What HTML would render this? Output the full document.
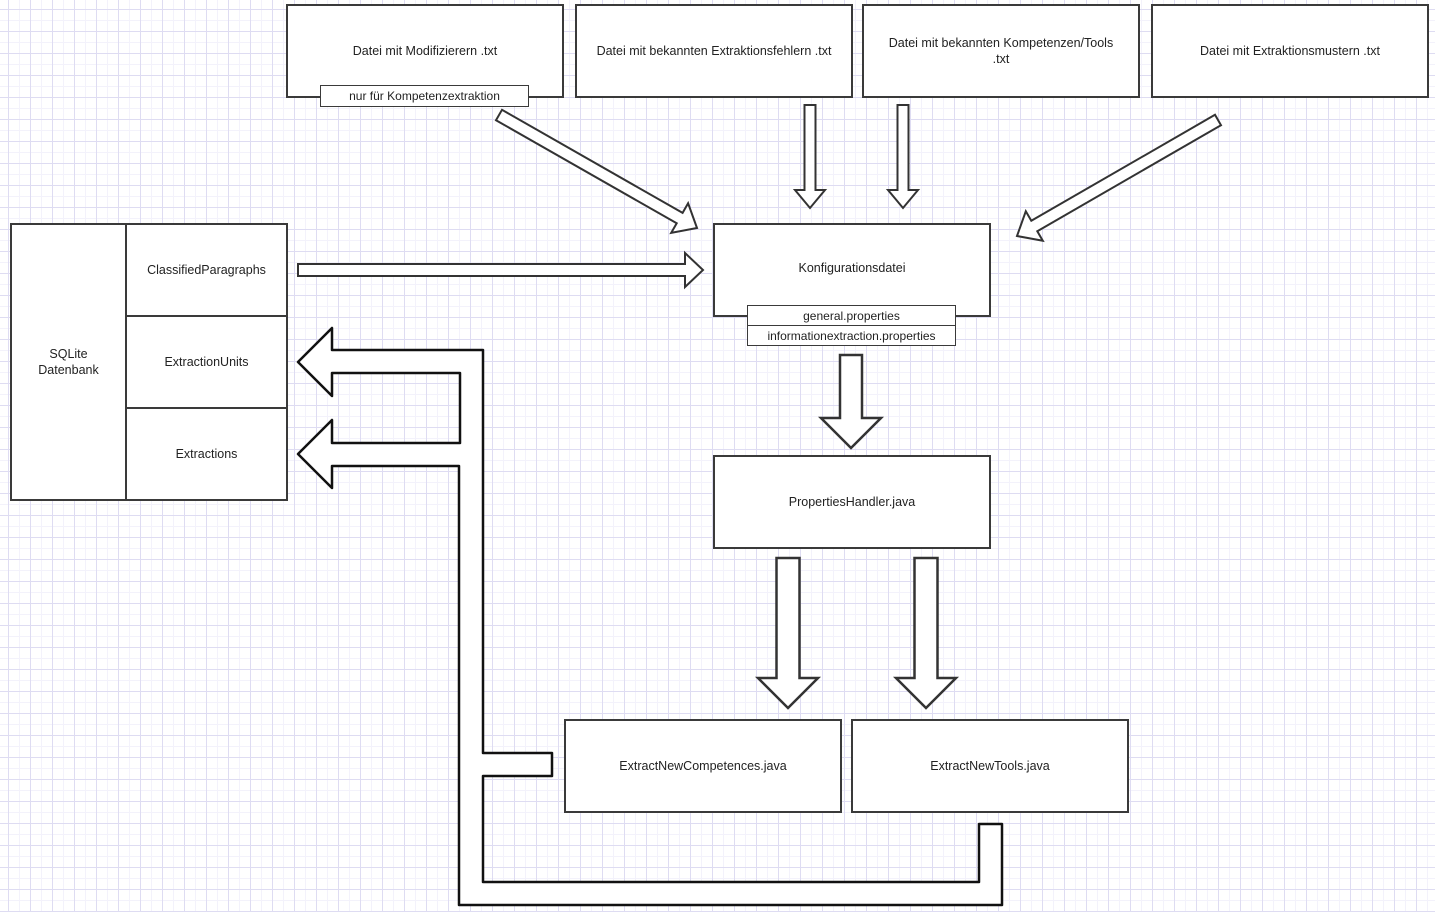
<!DOCTYPE html>
<html><head><meta charset="utf-8"><style>
body{margin:0;width:1435px;height:912px;overflow:hidden;background:#fff;
background-image:linear-gradient(#dedcf2 1px,transparent 1px),linear-gradient(90deg,#dedcf2 1px,transparent 1px),linear-gradient(#f3f2fb 1px,transparent 1px),linear-gradient(90deg,#f3f2fb 1px,transparent 1px);background-size:22px 22px,22px 22px,11px 11px,11px 11px;background-position:8px 9px,8px 9px,8px 9px,8px 9px;font-family:"Liberation Sans",Arial,sans-serif;}
.b{position:absolute;box-sizing:border-box;border:2px solid #3a3a3a;background:#fff;display:flex;align-items:center;justify-content:center;text-align:center;font-size:12.5px;color:#222;line-height:16px}
.s{border-width:1.5px;font-size:12px;line-height:14px}
svg{position:absolute;left:0;top:0}
</style></head><body>
<svg width="1435" height="912" id="sv">
<polygon fill="#fff" stroke="#111" stroke-width="2.5" stroke-linejoin="round" points="332,350 483,350 483,753 552,753 552,776 483,776 483,882 979,882 979,824 1002,824 1002,905 459,905 459,466 332,466 332,488 298,454 332,420 332,443 460,443 460,373 332,373 332,396 298,362 332,328"/>
</svg>
<div class="b" style="left:286px;top:4px;width:278px;height:94px">Datei mit Modifizierern .txt</div>
<div class="b s" style="left:320px;top:85px;width:209px;height:22px">nur für Kompetenzextraktion</div>
<div class="b" style="left:575px;top:4px;width:278px;height:94px">Datei mit bekannten Extraktionsfehlern .txt</div>
<div class="b" style="left:862px;top:4px;width:278px;height:94px">Datei mit bekannten Kompetenzen/Tools<br>.txt</div>
<div class="b" style="left:1151px;top:4px;width:278px;height:94px">Datei mit Extraktionsmustern .txt</div>
<div class="b" style="left:10px;top:223px;width:117px;height:278px">SQLite<br>Datenbank</div>
<div class="b" style="left:125px;top:223px;width:163px;height:94px">ClassifiedParagraphs</div>
<div class="b" style="left:125px;top:315px;width:163px;height:94px">ExtractionUnits</div>
<div class="b" style="left:125px;top:407px;width:163px;height:94px">Extractions</div>
<div class="b" style="left:713px;top:223px;width:278px;height:94px;padding-bottom:4px">Konfigurationsdatei</div>
<div class="b s" style="left:747px;top:305px;width:209px;height:21px">general.properties</div>
<div class="b s" style="left:747px;top:325px;width:209px;height:21px">informationextraction.properties</div>
<div class="b" style="left:713px;top:455px;width:278px;height:94px">PropertiesHandler.java</div>
<div class="b" style="left:564px;top:719px;width:278px;height:94px">ExtractNewCompetences.java</div>
<div class="b" style="left:851px;top:719px;width:278px;height:94px">ExtractNewTools.java</div>
<script>
function arrow(x0,y0,x1,y1,w,hw,hl,sw){
 var dx=x1-x0,dy=y1-y0,L=Math.hypot(dx,dy),ux=dx/L,uy=dy/L,nx=-uy,ny=ux;
 var bx=x1-ux*hl,by=y1-uy*hl;
 var pts=[[x0+nx*w,y0+ny*w],[bx+nx*w,by+ny*w],[bx+nx*hw,by+ny*hw],[x1,y1],[bx-nx*hw,by-ny*hw],[bx-nx*w,by-ny*w],[x0-nx*w,y0-ny*w]];
 var p=document.createElementNS("http://www.w3.org/2000/svg","polygon");
 p.setAttribute("points",pts.map(function(a){return a[0].toFixed(1)+","+a[1].toFixed(1)}).join(" "));
 p.setAttribute("fill","#fff");p.setAttribute("stroke","#333");p.setAttribute("stroke-width",sw);
 document.getElementById("sv").appendChild(p);
}
arrow(499,115,697,228,6,17,20,2);
arrow(1218,120,1017,236,6,17,20,2);
arrow(810,105,810,208,5.5,15,18,2);
arrow(903,105,903,208,5.5,15,18,2);
arrow(298,270,703,270,6,17,18,2);
arrow(851,355,851,448,11,30,30,2.5);
arrow(788,558,788,708,11.5,30,30,2.5);
arrow(926,558,926,708,11.5,30,30,2.5);
</script>
</body></html>
